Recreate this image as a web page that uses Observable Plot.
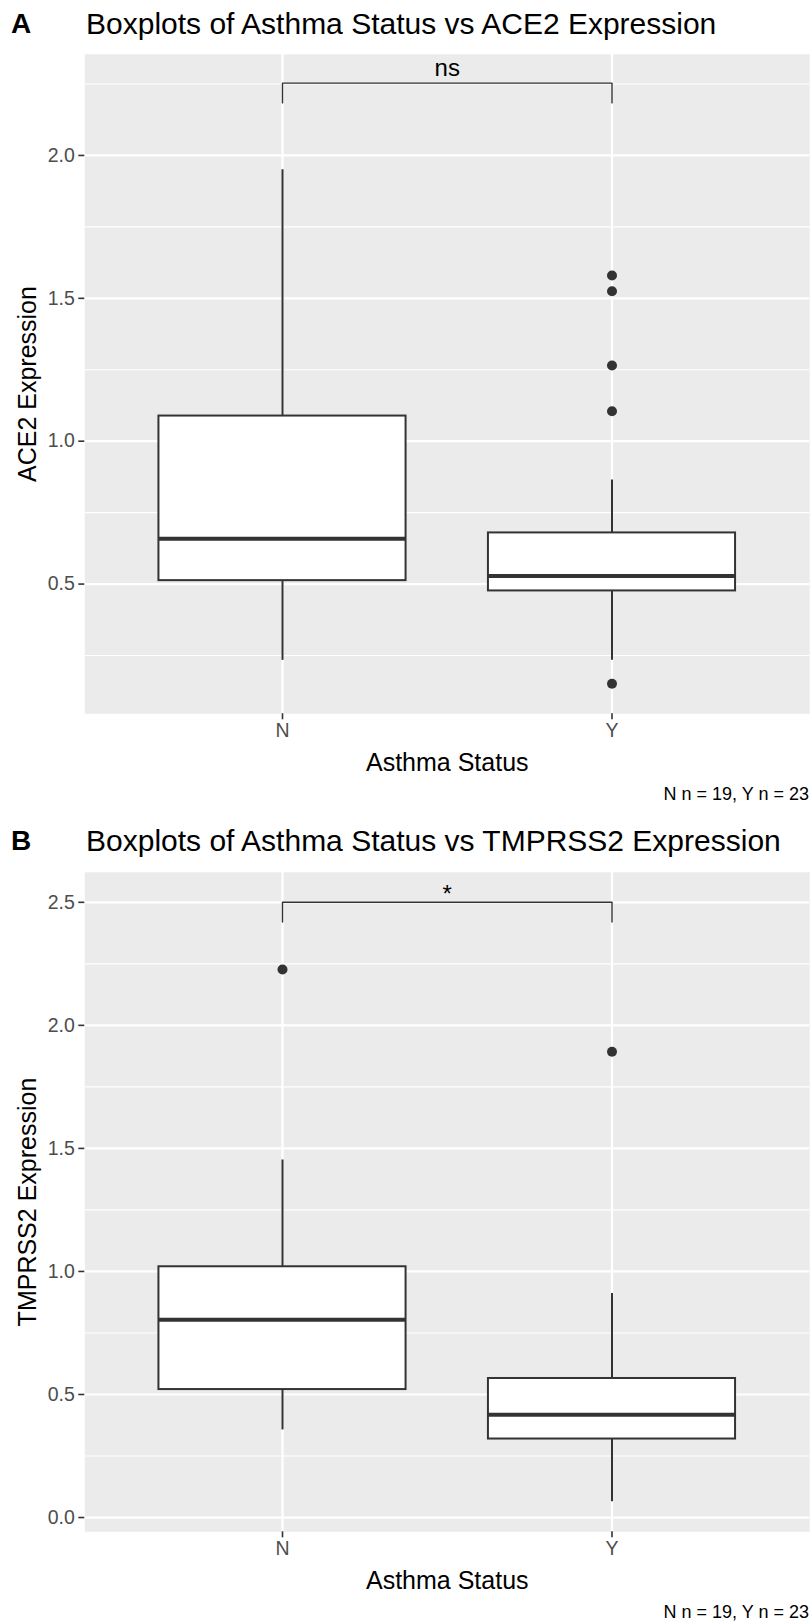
<!DOCTYPE html>
<html><head><meta charset="utf-8">
<script src="https://cdn.jsdelivr.net/npm/d3@7"></script>
<script src="https://cdn.jsdelivr.net/npm/@observablehq/plot@0.6"></script>
<style>
body{margin:0;background:#fff;}
#root{position:relative;width:811px;height:1621px;font-family:"Liberation Sans",Arial,Helvetica,sans-serif;overflow:hidden;color:#000}
.abs{position:absolute;white-space:nowrap;line-height:1}
.tag{font-weight:bold;font-size:28px}
.title{font-size:30px}
.cap{font-size:18px;right:2px}
.plot{position:absolute;left:0}
</style></head><body><div id="root"></div>
<script>
// ---- shared categories ----
const groups = ["N", "Y"];

// ---- Panel A: ACE2 expression (box summaries) ----
const aceLower  = [0.233, 0.233];
const aceQ1     = [0.512, 0.476];
const aceMedian = [0.659, 0.528];
const aceQ3     = [1.088, 0.679];
const aceUpper  = [1.950, 0.864];
const aceOutlierGroup = ["Y", "Y", "Y", "Y", "Y"];
const aceOutlierValue = [1.580, 1.525, 1.265, 1.105, 0.151];
const aceTicks = [0.5, 1.0, 1.5, 2.0];
const aceMinorTicks = [0.25, 0.75, 1.25, 1.75, 2.25];
const aceDomain = [0.046, 2.354];
const aceBracket = [2.184, 2.253];   // tip bottom, bar height
const aceSig = "ns";

// ---- Panel B: TMPRSS2 expression (box summaries) ----
const tmpLower  = [0.356, 0.064];
const tmpQ1     = [0.520, 0.319];
const tmpMedian = [0.804, 0.418];
const tmpQ3     = [1.019, 0.565];
const tmpUpper  = [1.453, 0.910];
const tmpOutlierGroup = ["N", "Y"];
const tmpOutlierValue = [2.227, 1.893];
const tmpTicks = [0.0, 0.5, 1.0, 1.5, 2.0, 2.5];
const tmpMinorTicks = [0.25, 0.75, 1.25, 1.75, 2.25];
const tmpDomain = [-0.058, 2.622];
const tmpBracket = [2.42, 2.50];
const tmpSig = "*";

const xTitle = "Asthma Status";
const caption = "N n = 19, Y n = 23";

const FONT = '"Liberation Sans", Arial, Helvetica, sans-serif';
const DARK = "#333333";

function makePanel(o) {
  const boxes = groups.map((g, i) => ({
    group: g, pos: i + 1,
    lower: o.lower[i], q1: o.q1[i], median: o.median[i], q3: o.q3[i], upper: o.upper[i]
  }));
  const outliers = o.outGroup.map((g, i) => ({pos: groups.indexOf(g) + 1, value: o.outValue[i]}));
  const half = 0.375;
  const bracketPts = [
    {x: 1, y: o.bracket[0]}, {x: 1, y: o.bracket[1]},
    {x: 2, y: o.bracket[1]}, {x: 2, y: o.bracket[0]}
  ];
  return Plot.plot({
    width: 811, height: 735,
    marginTop: 13.8, marginBottom: 61.7, marginLeft: 84.3, marginRight: 1.8,
    style: {fontFamily: FONT, background: "transparent", overflow: "visible"},
    x: {type: "linear", domain: [0.4, 2.6]},
    y: {domain: o.domain},
    marks: [
      Plot.frame({fill: "#EBEBEB", stroke: "none"}),
      Plot.ruleY(o.minor, {stroke: "white", strokeWidth: 1.1}),
      Plot.ruleY(o.ticks, {stroke: "white", strokeWidth: 2.2}),
      Plot.ruleX([1, 2], {stroke: "white", strokeWidth: 2.2}),
      Plot.axisY({ticks: o.ticks, tickSize: 6, tickPadding: 4, tickFormat: d3.format(".1f"),
        stroke: DARK, fill: "#4D4D4D", strokeWidth: 1.6, fontSize: 19.5, label: null}),
      Plot.axisX({ticks: [1, 2], tickSize: 6, tickPadding: 3, tickFormat: d => groups[d - 1],
        stroke: DARK, fill: "#4D4D4D", strokeWidth: 1.6, fontSize: 19.5, label: null}),
      Plot.ruleX(boxes, {x: "pos", y1: "lower", y2: "q1", stroke: DARK, strokeWidth: 2}),
      Plot.ruleX(boxes, {x: "pos", y1: "q3", y2: "upper", stroke: DARK, strokeWidth: 2}),
      Plot.rect(boxes, {x1: d => d.pos - half, x2: d => d.pos + half, y1: "q1", y2: "q3",
        fill: "white", stroke: DARK, strokeWidth: 2}),
      Plot.ruleY(boxes, {y: "median", x1: d => d.pos - half, x2: d => d.pos + half,
        stroke: DARK, strokeWidth: 4}),
      Plot.dot(outliers, {x: "pos", y: "value", r: 5, fill: DARK, stroke: "none"}),
      Plot.line(bracketPts, {x: "x", y: "y", stroke: DARK, strokeWidth: 1.4}),
      Plot.text([o.sig], {x: 1.5, y: o.bracket[1], text: d => d, lineAnchor: "bottom",
        dy: o.sigDy, fontSize: 24, fill: "#000"}),
      Plot.text([o.yTitle], {frameAnchor: "left", dx: -57, rotate: -90, text: d => d,
        textAnchor: "middle", lineAnchor: "middle", fontSize: 25, fill: "#000"}),
      Plot.text([xTitle], {frameAnchor: "bottom", dy: 48.7, text: d => d,
        textAnchor: "middle", lineAnchor: "middle", fontSize: 25, fill: "#000"})
    ]
  });
}

const root = document.getElementById("root");
function addText(cls, txt, left, top) {
  const d = document.createElement("div");
  d.className = "abs " + cls;
  d.textContent = txt;
  if (left != null) d.style.left = left + "px";
  d.style.top = top + "px";
  root.appendChild(d);
}

function addPanel(tag, title, topOffset, opts) {
  addText("tag", tag, 11, topOffset + 9.5);
  addText("title", title, 86, topOffset + 8.5);
  const svg = makePanel(opts);
  svg.classList.add("plot");
  svg.style.top = (topOffset + 40) + "px";
  root.appendChild(svg);
  addText("cap", caption, null, topOffset + 785);
}

addPanel("A", "Boxplots of Asthma Status vs ACE2 Expression", 0, {
  lower: aceLower, q1: aceQ1, median: aceMedian, q3: aceQ3, upper: aceUpper,
  outGroup: aceOutlierGroup, outValue: aceOutlierValue,
  ticks: aceTicks, minor: aceMinorTicks, domain: aceDomain,
  bracket: aceBracket, sig: aceSig, sigDy: -7, yTitle: "ACE2 Expression"
});
addPanel("B", "Boxplots of Asthma Status vs TMPRSS2 Expression", 817.7, {
  lower: tmpLower, q1: tmpQ1, median: tmpMedian, q3: tmpQ3, upper: tmpUpper,
  outGroup: tmpOutlierGroup, outValue: tmpOutlierValue,
  ticks: tmpTicks, minor: tmpMinorTicks, domain: tmpDomain,
  bracket: tmpBracket, sig: tmpSig, sigDy: 0, yTitle: "TMPRSS2 Expression"
});
</script></body></html>
